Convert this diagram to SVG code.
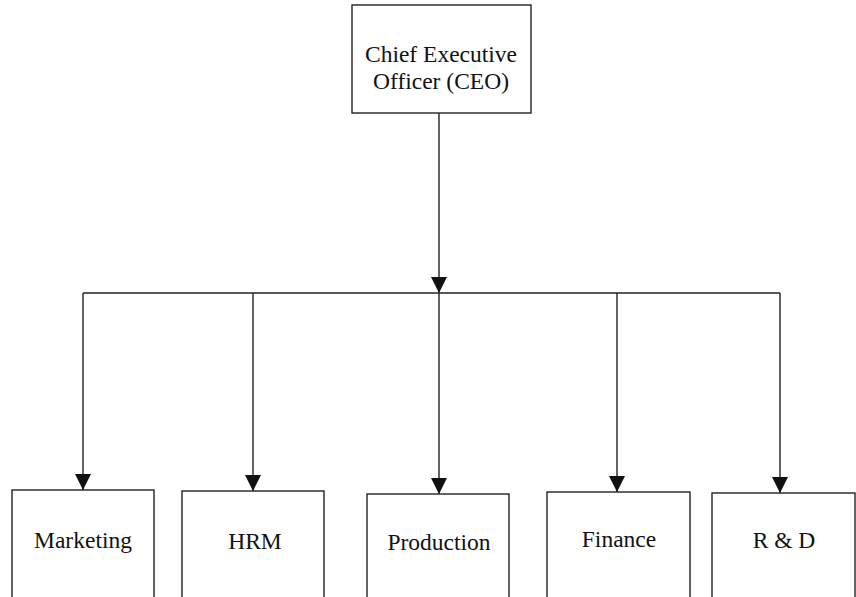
<svg xmlns="http://www.w3.org/2000/svg" width="856" height="597" viewBox="0 0 856 597">
<style>
.box{fill:#fff;stroke:#222;stroke-width:1.4}
.ln{fill:none;stroke:#222;stroke-width:1.4}
.t{font-family:"Liberation Serif","Times New Roman",serif;font-size:23.5px;fill:#111;text-anchor:middle}
</style>
<defs>
<marker id="arr" markerUnits="userSpaceOnUse" markerWidth="18" markerHeight="17" refX="16" refY="8" orient="auto">
<path d="M0,0 L16,8 L0,16 Z" fill="#111"/>
</marker>
</defs>
<rect width="856" height="597" fill="#fff"/>
<g id="connectors">
<line class="ln" x1="439" y1="113" x2="439" y2="293" marker-end="url(#arr)"/>
<line class="ln" x1="83" y1="293" x2="780" y2="293"/>
<line class="ln" x1="83" y1="293" x2="83" y2="490" marker-end="url(#arr)"/>
<line class="ln" x1="253" y1="293" x2="253" y2="491" marker-end="url(#arr)"/>
<line class="ln" x1="439" y1="293" x2="439" y2="494" marker-end="url(#arr)"/>
<line class="ln" x1="617" y1="293" x2="617" y2="492" marker-end="url(#arr)"/>
<line class="ln" x1="780" y1="293" x2="780" y2="493" marker-end="url(#arr)"/>
</g>
<g id="ceo">
<rect class="box" x="352" y="5" width="179" height="108"/>
<text class="t" x="441" y="62">Chief Executive</text>
<text class="t" x="441" y="89">Officer (CEO)</text>
</g>
<g id="marketing">
<rect class="box" x="12" y="490" width="142" height="130"/>
<text class="t" x="83" y="548">Marketing</text>
</g>
<g id="hrm">
<rect class="box" x="182" y="491" width="142" height="130"/>
<text class="t" x="255" y="549">HRM</text>
</g>
<g id="production">
<rect class="box" x="367" y="494" width="142" height="130"/>
<text class="t" x="439" y="550">Production</text>
</g>
<g id="finance">
<rect class="box" x="547" y="492" width="143" height="130"/>
<text class="t" x="619" y="547">Finance</text>
</g>
<g id="rd">
<rect class="box" x="712" y="493" width="143" height="130"/>
<text class="t" x="784" y="548">R &amp; D</text>
</g>
</svg>
